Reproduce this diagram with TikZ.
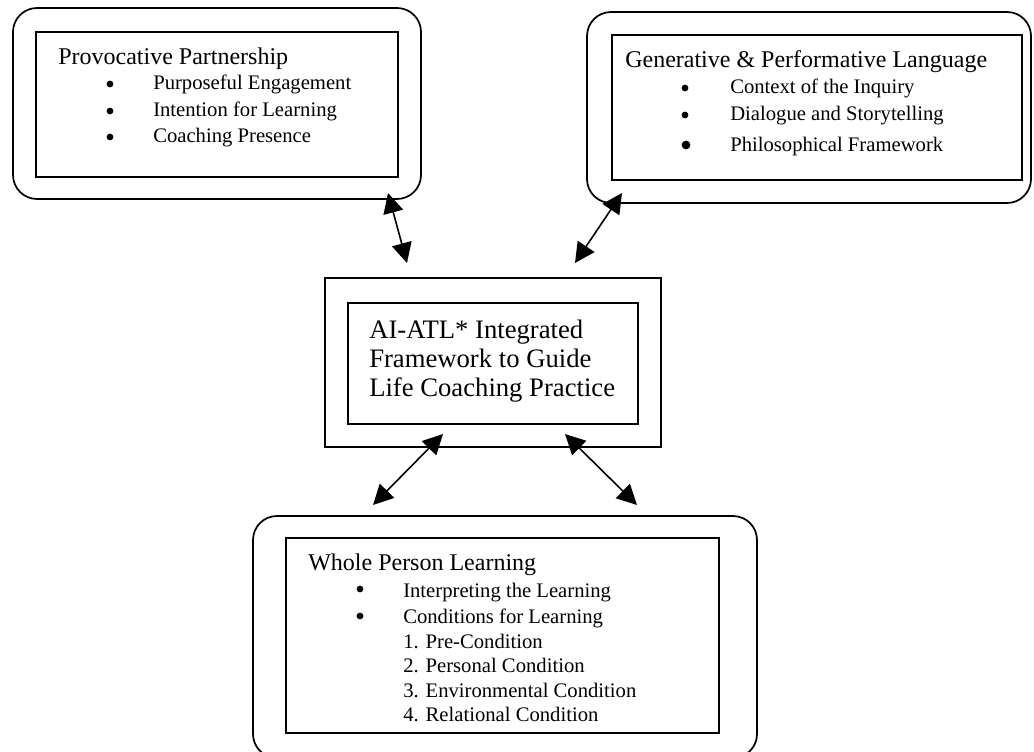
\documentclass[tikz,border=0pt]{standalone}
\usepackage{fontspec}
\setmainfont{Liberation Serif}
\usetikzlibrary{arrows.meta,fit}

\begin{document}
\begin{tikzpicture}[x=0.75pt,y=-0.75pt,
    frame/.style={draw,line width=1.3pt,rounded corners=18pt,inner sep=0pt},
    box/.style={draw,line width=1pt,inner sep=0pt},
    head/.style={anchor=base west,inner sep=0pt,font=\fontsize{18}{21}\selectfont},
    entry/.style={anchor=base west,inner sep=0pt,font=\fontsize{15.5}{18}\selectfont},
    core/.style={anchor=west,align=left,inner sep=0pt,font=\fontsize{20}{22}\selectfont},
    link/.style={{Triangle[length=15pt,width=15pt]}-{Triangle[length=15pt,width=15pt]},line width=1.2pt}]

    \useasboundingbox (0,0) rectangle (1034,752);

    % upper left block
    \node[frame,fit={(13,8) (421,199)}] (pp frame) {};
    \node[box,fit={(36,32) (398,177)}] (pp box) {};
    \node[head] (pp head) at (58,65) {Provocative Partnership};
    \fill (110,84) circle(3.4);
    \node[entry] (pp 1) at (153,90) {Purposeful Engagement};
    \fill (110,111) circle(3.4);
    \node[entry] (pp 2) at (153,117) {Intention for Learning};
    \fill (110,137) circle(3.4);
    \node[entry] (pp 3) at (153,143) {Coaching Presence};

    % upper right block
    \node[frame,fit={(587,12) (1031,203)}] (gl frame) {};
    \node[box,fit={(612,35) (1022,180)}] (gl box) {};
    \node[head] (gl head) at (625,68) {Generative \& Performative Language};
    \fill (685,88) circle(3.4);
    \node[entry] (gl 1) at (730,94) {Context of the Inquiry};
    \fill (685,115) circle(3.4);
    \node[entry] (gl 2) at (730,121) {Dialogue and Storytelling};
    \fill (686,145) circle(4.4);
    \node[entry] (gl 3) at (730,152) {Philosophical Framework};

    % centre block
    \node[box,line width=1.3pt,fit={(325,278) (661,447)}] (ai frame) {};
    \node[box,fit={(348,303) (638,424)}] (ai box) {};
    \node[core] (ai text) at (369,361) {AI-ATL* Integrated\\Framework to Guide\\Life Coaching Practice};

    % lower block
    \node[frame,fit={(253,516) (757,758)}] (wp frame) {};
    \node[box,fit={(286,538) (719,733)}] (wp box) {};
    \node[head] (wp head) at (308,570) {Whole Person Learning};
    \fill (360,589) circle(3.4);
    \node[entry] (wp 1) at (403,597) {Interpreting the Learning};
    \fill (360,616) circle(3.4);
    \node[entry] (wp 2) at (403,623) {Conditions for Learning};
    \node[entry] (wp 3) at (403,648) {1. Pre-Condition};
    \node[entry] (wp 4) at (403,672) {2. Personal Condition};
    \node[entry] (wp 5) at (403,697) {3. Environmental Condition};
    \node[entry] (wp 6) at (403,721) {4. Relational Condition};

    % arrow ends
    \coordinate (pp out) at (388,193);
    \coordinate (pp in) at (407,263);
    \coordinate (gl out) at (622,193);
    \coordinate (gl in) at (575,263);
    \coordinate (wp left top) at (443,434);
    \coordinate (wp left) at (373,505);
    \coordinate (wp right top) at (565,434);
    \coordinate (wp right) at (637,505);

    \draw[link] (pp out) -- (pp in);
    \draw[link] (gl out) -- (gl in);
    \draw[link] (wp left top) -- (wp left);
    \draw[link] (wp right top) -- (wp right);
\end{tikzpicture}
\end{document}
